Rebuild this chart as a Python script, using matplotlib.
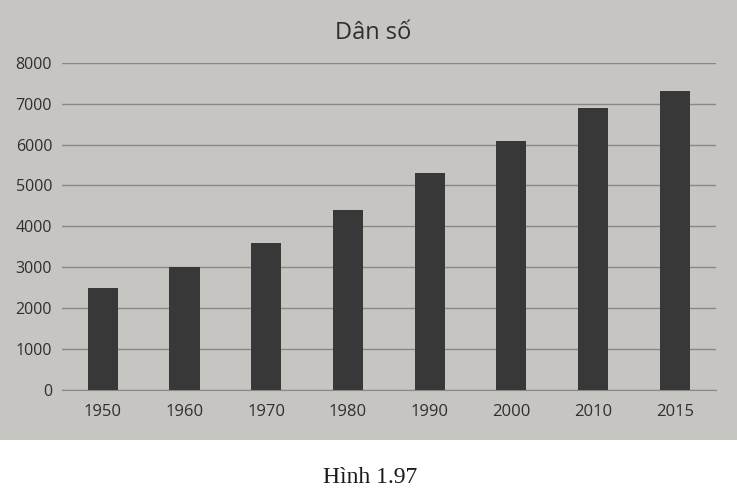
import matplotlib
matplotlib.use("Agg")
import matplotlib.pyplot as plt
from matplotlib.patches import Rectangle

years = ["1950", "1960", "1970", "1980", "1990", "2000", "2010", "2015"]
population = [2500, 3000, 3600, 4400, 5300, 6100, 6900, 7300]
y_ticks = [0, 1000, 2000, 3000, 4000, 5000, 6000, 7000, 8000]

paper = "#c7c5c1"
ink = "#2f2f2f"

fig = plt.figure(figsize=(7.37, 4.91), dpi=100)
fig.patch.set_facecolor("white")
fig.patches.append(Rectangle((0, 1 - 440 / 491), 1, 440 / 491, transform=fig.transFigure,
                             facecolor=paper, edgecolor="none", zorder=-5))

ax = fig.add_axes([0.084, 0.206, 0.887, 0.666])
ax.set_zorder(5)
ax.set_facecolor("none")
ax.bar(range(len(years)), population, width=0.37, color="#383838", zorder=3)
ax.set_xlim(-0.5, len(years) - 0.5)
ax.set_ylim(0, 8000)
ax.set_yticks(y_ticks)
ax.set_yticklabels([str(v) for v in y_ticks], fontsize=11.5, color=ink,
                   family="Open Sans", weight="medium")
ax.set_xticks(range(len(years)))
ax.set_xticklabels(years, fontsize=12, color=ink, family="Open Sans", weight="medium")
ax.tick_params(axis="both", length=0)
ax.tick_params(axis="y", pad=7)
ax.tick_params(axis="x", pad=10)
ax.grid(axis="y", color="#8a8885", linewidth=1.0, zorder=1)
for s in ["top", "right", "left"]:
    ax.spines[s].set_visible(False)
ax.spines["bottom"].set_color("#8a8885")

fig.text(373 / 737, 1 - 33 / 491, "Dân số", ha="center", va="center", fontsize=17,
         color=ink, family="Open Sans", weight="medium")

fig.text(0.502, 0.027, "Hình 1.97", ha="center", va="center", fontsize=17,
         family="Liberation Serif", color="#1a1a1a")

fig.savefig("out.png", dpi=100)
